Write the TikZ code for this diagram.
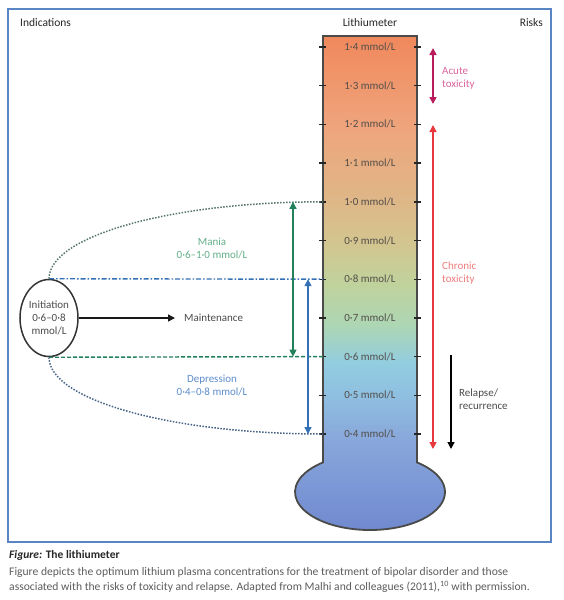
\documentclass[tikz,border=0pt]{standalone}
\usepackage{fontspec}
\setmainfont{Carlito}
\usetikzlibrary{arrows.meta,positioning,shapes.geometric}

\definecolor{framebox}{HTML}{5A85C4}
\definecolor{maniagreen}{HTML}{23805A}
\definecolor{manialabel}{HTML}{62AE88}
\definecolor{deprblue}{HTML}{3470B6}
\definecolor{deprlabel}{HTML}{5C8CCB}
\definecolor{acutered}{HTML}{B81C5C}
\definecolor{acutelabel}{HTML}{D8649E}
\definecolor{chronred}{HTML}{E8383D}
\definecolor{chronlabel}{HTML}{EE7C7C}
\definecolor{lvltext}{HTML}{534E4A}
\definecolor{txtgrey}{HTML}{4A4A4A}
\definecolor{capgrey}{HTML}{5C5C5C}
\definecolor{upperdot}{HTML}{557568}
\definecolor{lowerdot}{HTML}{466286}
\definecolor{tubeline}{HTML}{4A4A48}
%% thermometer colours, top to bottom
\definecolor{th14}{HTML}{F0885C}
\definecolor{th12}{HTML}{EFA47C}
\definecolor{th10}{HTML}{DDB888}
\definecolor{th09}{HTML}{D2C690}
\definecolor{th08}{HTML}{C0D29C}
\definecolor{th07}{HTML}{ADD6B4}
\definecolor{th06}{HTML}{92CDE0}
\definecolor{th05}{HTML}{8EBCE0}
\definecolor{th04}{HTML}{88A6DA}
\definecolor{thbulbA}{HTML}{7C98D6}
\definecolor{thbulbB}{HTML}{6F88CE}
\pgfdeclareverticalshading{lithium}{100bp}{%
  color(0bp)=(thbulbB); color(25bp)=(thbulbB); color(30bp)=(thbulbA);
  color(34.4bp)=(th04); color(38.3bp)=(th05); color(42.2bp)=(th06);
  color(46bp)=(th07); color(50.2bp)=(th08); color(54bp)=(th09);
  color(58bp)=(th10); color(66bp)=(th12); color(75bp)=(th14);
  color(100bp)=(th14)}

\tikzset{
  lbl/.style={font=\fontsize{11}{13}\selectfont, inner sep=0pt, align=center},
  lvl/.style={lbl, text=lvltext},
  scaletick/.style={line width=1.4pt, black!85},
  tip/.style={-{Triangle[length=7pt,width=7pt]}},
  bothtips/.style={{Triangle[length=7pt,width=7pt]}-{Triangle[length=7pt,width=7pt]}},
  dotcurve/.style={line width=1.5pt, dash pattern=on 1.5pt off 1.5pt},
}

\begin{document}
\begin{tikzpicture}[x=1pt,y=-1pt]
\useasboundingbox (0,0) rectangle (563,600);
\def\tl{323}   % tube left x
\def\tr{417}   % tube right x
\def\tc{370}   % tube centre x
%% Frame and headings
\draw[framebox, line width=1.6pt] (8,9) rectangle (551,542);
\node[lbl, font=\fontsize{11.5}{13}\selectfont, anchor=west, text=black!85] (hind) at (20,23) {Indications};
\node[lbl, font=\fontsize{11.5}{13}\selectfont, text=black!85] (hlith) at (\tc,23) {Lithiumeter};
\node[lbl, font=\fontsize{11.5}{13}\selectfont, anchor=east, text=black!85] (hrisk) at (543,23) {Risks};
%% Thermometer: tube + bulb
\shadedraw[shading=lithium, draw=tubeline, line width=1.8pt]
  (\tl,36) -- (\tr,36) -- (\tr,462.4)
  arc[start angle=-51.2, end angle=231.2, x radius=75, y radius=38] -- cycle;
%% Scale: ticks and levels
\foreach \lab [count=\i from 0] in {1·4,1·3,1·2,1·1,1·0,0·9,0·8,0·7,0·6,0·5,0·4}{
  \pgfmathsetmacro{\yy}{47+38.7*\i}
  \node[lvl] (lv\i) at (\tc,\yy) {\lab\ mmol/L};
  \coordinate (tl\i) at (\tl,\yy);
  \draw[scaletick] (\tl-4,\yy) -- (\tl+3,\yy);
  \draw[scaletick] (\tr-3,\yy) -- (\tr+4,\yy);
}
%% Indications
\node[draw=black!80, line width=1.5pt, ellipse, minimum width=58pt, minimum height=77pt,
  inner sep=0pt, lbl, text=txtgrey] (init) at (49,318) {Initiation\\0·6–0·8\\mmol/L};
\coordinate (maintEnd) at (175,318);
\draw[tip, line width=1.4pt, black!90] (init.east) -- (maintEnd);
\node[lbl, anchor=west, text=txtgrey] (maint) at (184,318) {Maintenance};
\draw[deprblue, line width=1.4pt, dash pattern=on 5pt off 2pt on 1.5pt off 2pt] (init.north) -- (tl6);
\draw[maniagreen, line width=1.4pt, dash pattern=on 4pt off 2pt] (init.south) -- (tl8);
\draw[dotcurve, upperdot] (init.north) .. controls +(0,-43) and +(-151,0) .. (tl4);
\draw[dotcurve, lowerdot] (init.south) .. controls +(0,43) and +(-151,0) .. (tl10);
%% Mania / depression ranges
\coordinate (maniaTop) at (293,201.8);
\coordinate (maniaBot) at (293,356.6);
\draw[bothtips, maniagreen, line width=1.4pt] (maniaTop) -- (maniaBot);
\node[lbl, text=manialabel] (mania) at (212,248.5) {Mania\\0·6–1·0 mmol/L};
\coordinate (deprTop) at (308,279.2);
\coordinate (deprBot) at (308,434);
\draw[bothtips, deprblue, line width=1.4pt] (deprTop) -- (deprBot);
\node[lbl, text=deprlabel] (depr) at (212,385.5) {Depression\\0·4–0·8 mmol/L};
%% Risks
\coordinate (acuteTop) at (433,48);
\coordinate (acuteBot) at (433,104);
\draw[bothtips, acutered, line width=1.6pt] (acuteTop) -- (acuteBot);
\node[lbl, anchor=west, align=left, text=acutelabel] (acute) at (442,78.5) {Acute\\toxicity};
\coordinate (chronTop) at (433,125);
\coordinate (chronBot) at (433,449);
\draw[bothtips, chronred, line width=1.4pt] (chronTop) -- (chronBot);
\node[lbl, anchor=west, align=left, text=chronlabel] (chron) at (442,273.5) {Chronic\\toxicity};
\coordinate (relTop) at (451,355);
\coordinate (relBot) at (451,449);
\draw[tip, black, line width=1.4pt] (relTop) -- (relBot);
\node[lbl, anchor=west, align=left, text=txtgrey] (relapse) at (459,399) {Relapse/\\recurrence};
%% Caption
\node[lbl, font=\fontsize{11.5}{13}\selectfont, anchor=west, text=black!85] (capTitle) at (9,555)
  {\textbf{\textit{Figure:} The lithiumeter}};
\node[lbl, font=\fontsize{11.6}{14}\selectfont, anchor=west, text=capgrey] (capA) at (9,572)
  {Figure depicts the optimum lithium plasma concentrations for the treatment of bipolar disorder and those};
\node[lbl, font=\fontsize{11.6}{14}\selectfont, anchor=west, text=capgrey] (capB) at (9,587)
  {associated with the risks of toxicity and relapse. Adapted from Malhi and colleagues (2011),\textsuperscript{10} with permission.};
\end{tikzpicture}
\end{document}
